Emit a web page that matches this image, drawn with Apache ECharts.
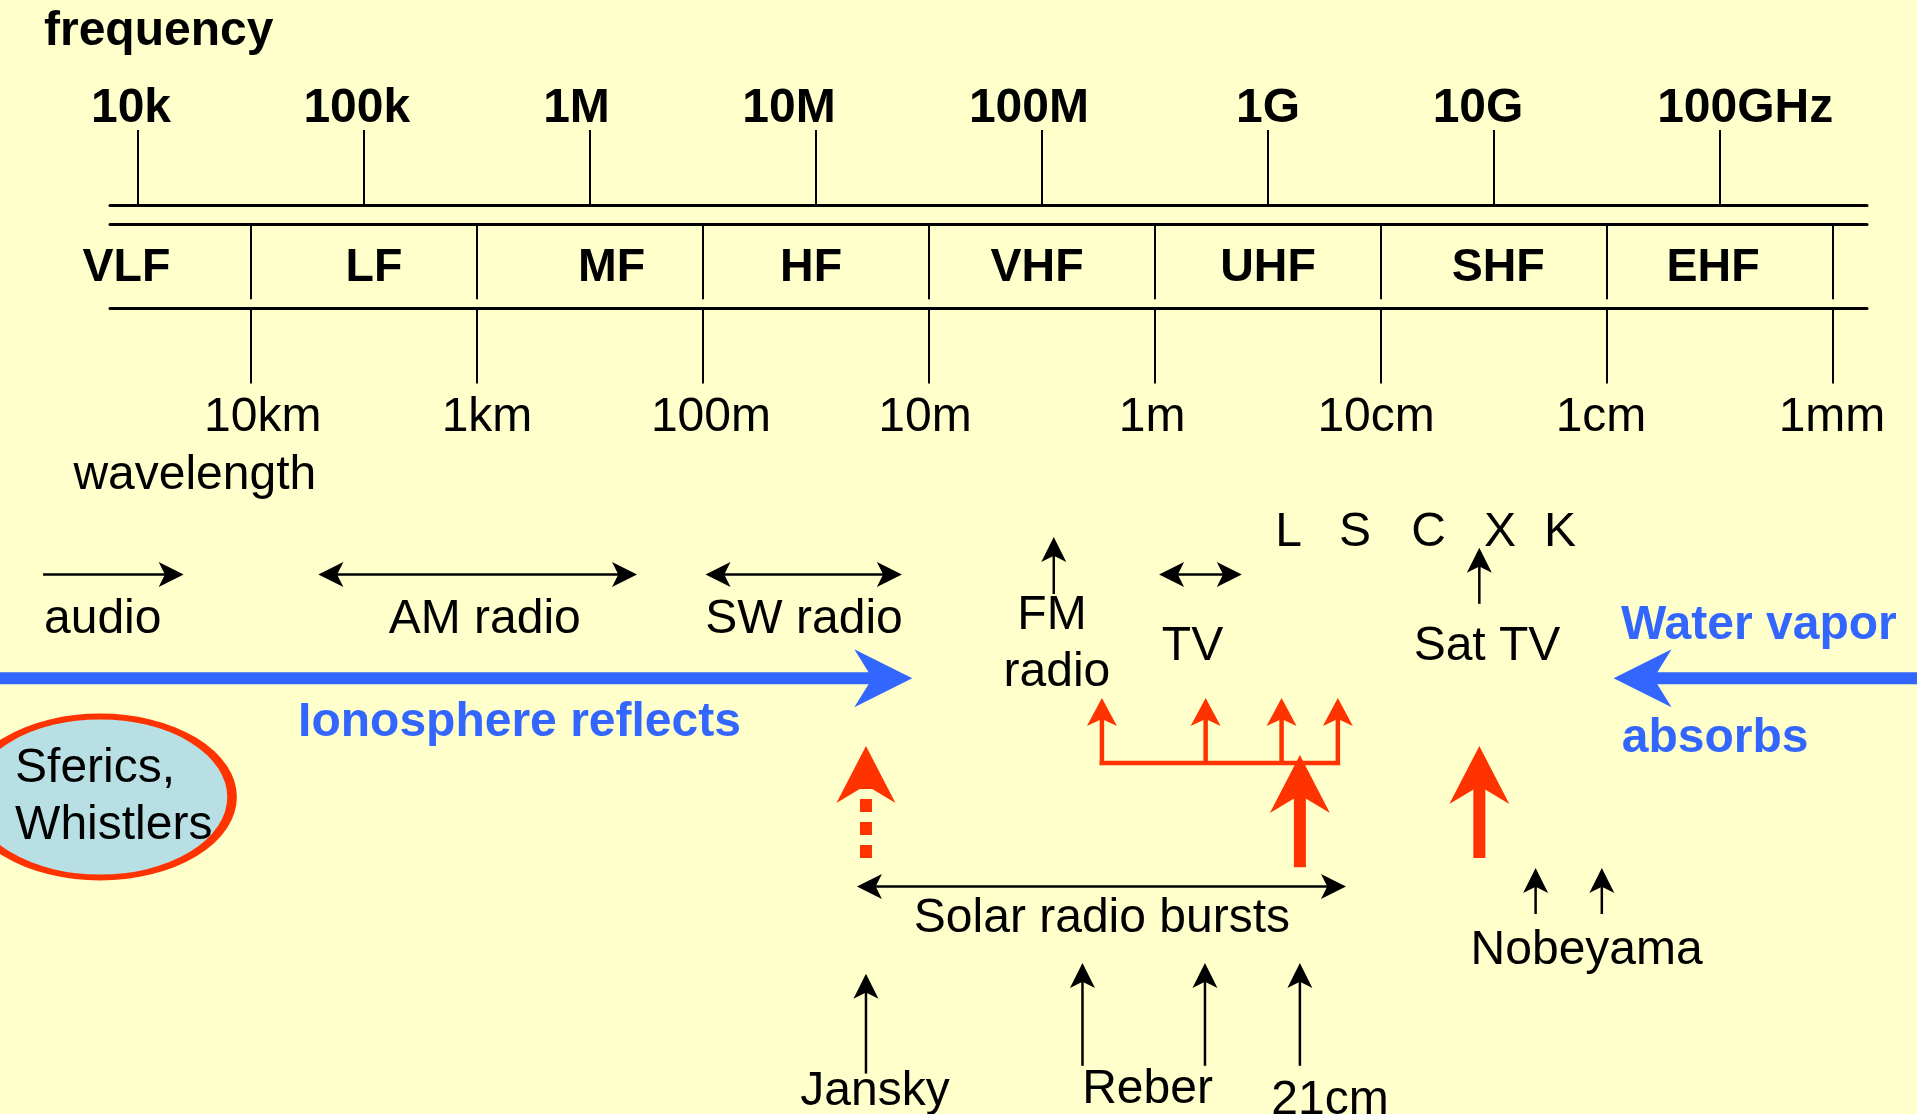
<!DOCTYPE html>
<html>
<head>
<meta charset="utf-8">
<script src="https://cdn.jsdelivr.net/npm/echarts@6/dist/echarts.min.js"></script>
<style>
  html, body { margin: 0; padding: 0; background: #ffffcc; }
  #chart { width: 1917px; height: 1114px; }
</style>
</head>
<body>
<div id="chart"></div>
<script>
// ================= DATA =================
// horizontal positions are log10(frequency / Hz)
const freqTicks  = [4, 5, 6, 7, 8, 9, 10, 11];
const freqLabels = ['10k', '100k', '1M', '10M', '100M', '1G', '10G', '100GHz'];
const bandEdges  = [4.5, 5.5, 6.5, 7.5, 8.5, 9.5, 10.5, 11.5];
const bandNames  = ['VLF', 'LF', 'MF', 'HF', 'VHF', 'UHF', 'SHF', 'EHF'];
const waveTicks  = [4.5, 5.5, 6.5, 7.5, 8.5, 9.5, 10.5, 11.5];
const waveLabels = ['10km', '1km', '100m', '10m', '1m', '10cm', '1cm', '1mm'];

const audioSpan          = [3.581, 4.203];
const amRadioSpan        = [4.799, 6.209];
const swRadioSpan        = [6.512, 7.381];
const tvSpan             = [8.519, 8.885];
const solarBurstSpan     = [7.182, 9.346];
const ionosphereReflects = [3.38, 7.427];
const waterVaporAbsorbs  = [11.88, 10.530];
const fmRadio            = [8.053];
const satTV              = [9.936];
const radarBands         = ['L', 'S', 'C', 'X', 'K'];
const radarBandAt        = [9.092, 9.386, 9.711, 10.027, 10.293];
const jansky             = [7.222];
const reber              = [8.180, 8.722];
const hydrogen21cm       = [9.142];
const nobeyama           = [10.185, 10.478];
const solarForkTo        = [8.266, 8.725, 9.061, 9.310];
const solarStrong        = [9.142, 9.936];
const solarWeak          = [7.222];
const sfericsAt          = [3.833];

// ================= LAYOUT / STYLE =================
const FONT = '"Liberation Sans", Arial, Helvetica, sans-serif';
const BLUE = '#3366ff', RED = '#ff3300', BLACK = '#000000';
const FS = 48;                       // main text size
const X_RULE = [3.877, 11.651];      // extent of the ruled scale
const X_FULL = [3.3903, 11.8726];    // extent of the full picture
const freqLabelAt = [3.970, 4.969, 5.941, 6.881, 7.943, 9.001, 9.930, 11.112];
const bandLabelAt = [3.950, 5.045, 6.096, 6.979, 7.979, 9.001, 10.019, 10.970];
const waveLabelAt = [4.553, 5.545, 6.536, 7.483, 8.488, 9.479, 10.474, 11.496];

// vertical layout rows (layout units, top = 0)
const TY = 5; // text baseline correction
const ROW = {
  letters: 527.4 + TY, shortArrow: 574.4, textA: 614.5 + TY, textB: 642 + TY,
  blueArrow: 678.3, ionoText: 717.5 + TY, fork: 763, forkTip: 698,
  solarLine: 886.5, solarText: 914 + TY
};

const arrowStyles = {
  black:   { color: BLACK, width: 2.5, L: 25, W: 12.5, notch: 0.25 },
  blue:    { color: BLUE,  width: 12,  L: 58, W: 29,   notch: 0.31 },
  red:     { color: RED,   width: 12,  L: 58, W: 30,   notch: 0.31 },
  redThin: { color: RED,   width: 4.5, L: 28, W: 15,   notch: 0.25 },
  redDash: { color: RED,   width: 12,  L: 57, W: 29.5, notch: 0.31, dash: [13, 10] }
};
const styleKeys = Object.keys(arrowStyles);
const S = k => styleKeys.indexOf(k);

// arrows: [x1, y1, x2, y2, style, heads(0 none,1 end,2 both)]
const arrows = [
  [audioSpan[0], ROW.shortArrow, audioSpan[1], ROW.shortArrow, S('black'), 1],
  [amRadioSpan[0], ROW.shortArrow, amRadioSpan[1], ROW.shortArrow, S('black'), 2],
  [swRadioSpan[0], ROW.shortArrow, swRadioSpan[1], ROW.shortArrow, S('black'), 2],
  [tvSpan[0], ROW.shortArrow, tvSpan[1], ROW.shortArrow, S('black'), 2],
  [fmRadio[0], 594, fmRadio[0], 537, S('black'), 1],
  [satTV[0], 603.8, satTV[0], 547.8, S('black'), 1],
  [ionosphereReflects[0], ROW.blueArrow, ionosphereReflects[1], ROW.blueArrow, S('blue'), 1],
  [waterVaporAbsorbs[0], ROW.blueArrow, waterVaporAbsorbs[1], ROW.blueArrow, S('blue'), 1],
  [solarForkTo[0], ROW.fork, solarForkTo[3], ROW.fork, S('redThin'), 0]
];
solarForkTo.forEach(x => arrows.push([x, ROW.fork + 2, x, ROW.forkTip, S('redThin'), 1]));
arrows.push([solarStrong[0], 867.3, solarStrong[0], 755, S('red'), 1]);
arrows.push([solarStrong[1], 858, solarStrong[1], 746, S('red'), 1]);
arrows.push([solarWeak[0], 858, solarWeak[0], 746, S('redDash'), 1]);
arrows.push([solarBurstSpan[0], ROW.solarLine, solarBurstSpan[1], ROW.solarLine, S('black'), 2]);
arrows.push([jansky[0], 1073.6, jansky[0], 973.8, S('black'), 1]);
reber.concat(hydrogen21cm).forEach(x => arrows.push([x, 1065.8, x, 963, S('black'), 1]));
nobeyama.forEach(x => arrows.push([x, 914, x, 868, S('black'), 1]));

// texts
const texts = [
  { x: 3.585, y: 26.5 + TY, t: 'frequency', bold: true, align: 'left' },
  { x: 3.715, y: 470.5 + TY, t: 'wavelength', align: 'left' },
  { x: 3.585, y: ROW.textA, t: 'audio', align: 'left' },
  { x: 5.535, y: ROW.textA, t: 'AM radio' },
  { x: 6.948, y: ROW.textA, t: 'SW radio' },
  { x: 5.689, y: ROW.ionoText, t: 'Ionosphere reflects', bold: true, color: BLUE },
  { x: 3.457, y: 763.5 + TY, t: 'Sferics,', align: 'left' },
  { x: 3.457, y: 820.5 + TY, t: 'Whistlers', align: 'left' },
  { x: 8.045, y: 610.5 + TY, t: 'FM' },
  { x: 8.067, y: 667.5 + TY, t: 'radio' },
  { x: 8.667, y: ROW.textB, t: 'TV' },
  { x: 9.970, y: ROW.textB, t: 'Sat TV' },
  { x: 11.173, y: 621 + TY, t: 'Water vapor', bold: true, color: BLUE },
  { x: 10.979, y: 734 + TY, t: 'absorbs', bold: true, color: BLUE },
  { x: 8.266, y: ROW.solarText, t: 'Solar radio bursts' },
  { x: 10.411, y: 945.5 + TY, t: 'Nobeyama' },
  { x: 7.262, y: 1086.5 + TY, t: 'Jansky' },
  { x: 8.468, y: 1084.5 + TY, t: 'Reber' },
  { x: 9.275, y: 1096 + TY, t: '21cm' }
];
radarBands.forEach((b, i) => texts.push({ x: radarBandAt[i], y: ROW.letters, t: b }));

function renderArrow(params, api) {
  const p1 = api.coord([api.value(0), api.value(1)]);
  const p2 = api.coord([api.value(2), api.value(3)]);
  const st = arrowStyles[styleKeys[api.value(4)]];
  const heads = api.value(5);
  const dx = p2[0] - p1[0], dy = p2[1] - p1[1];
  const len = Math.hypot(dx, dy) || 1;
  const ux = dx / len, uy = dy / len;
  const nx = -uy, ny = ux;
  const inset = st.L * (1 - st.notch) - 2;
  function head(tip, sx, sy) {
    const L = st.L, W = st.W, N = st.notch * L;
    return {
      type: 'polygon',
      shape: { points: [
        [tip[0], tip[1]],
        [tip[0] - sx * L + nx * W, tip[1] - sy * L + ny * W],
        [tip[0] - sx * (L - N), tip[1] - sy * (L - N)],
        [tip[0] - sx * L - nx * W, tip[1] - sy * L - ny * W]
      ] },
      style: { fill: st.color }
    };
  }
  const s = heads === 2 ? [p1[0] + ux * inset, p1[1] + uy * inset] : p1;
  const e = heads >= 1 ? [p2[0] - ux * inset, p2[1] - uy * inset] : p2;
  const children = [{
    type: 'line',
    shape: { x1: s[0], y1: s[1], x2: e[0], y2: e[1] },
    style: { stroke: st.color, lineWidth: st.width, lineDash: st.dash || null,
             lineCap: heads === 0 ? 'square' : 'butt' }
  }];
  if (heads >= 1) children.push(head(p2, ux, uy));
  if (heads === 2) children.push(head(p1, -ux, -uy));
  return { type: 'group', children };
}

function renderText(params, api) {
  const it = texts[params.dataIndex];
  const p = api.coord([api.value(0), api.value(1)]);
  return {
    type: 'text', x: p[0], y: p[1],
    style: {
      text: it.t, fill: it.color || BLACK,
      font: (it.bold ? 'bold ' : '') + FS + 'px ' + FONT,
      align: it.align || 'center', verticalAlign: 'middle'
    }
  };
}

const axisText = (bold, size) => ({ fontSize: size, fontWeight: bold ? 'bold' : 'normal', color: BLACK, fontFamily: FONT, verticalAlign: 'middle' });

const chart = echarts.init(document.getElementById('chart'), null, { renderer: 'canvas' });
chart.setOption({
  animation: false,
  backgroundColor: '#ffffcc',
  textStyle: { fontFamily: FONT },
  grid: [
    { left: 110, top: 205, width: 1757, height: 19.2, outerBoundsMode: 'none', containLabel: false },
    { left: 110, top: 300, width: 1757, height: 8.5, outerBoundsMode: 'none', containLabel: false },
    { left: 0, top: 0, width: 1917, height: 1114, outerBoundsMode: 'none', containLabel: false }
  ],
  xAxis: [
    { gridIndex: 0, type: 'value', position: 'top', min: X_RULE[0], max: X_RULE[1],
      axisLine: { show: true, onZero: false, lineStyle: { color: BLACK, width: 3 } },
      axisTick: { show: true, customValues: freqTicks, length: 75, lineStyle: { color: BLACK, width: 2 } },
      axisLabel: Object.assign({ show: true, customValues: freqLabelAt, margin: 101.5 - TY,
        formatter: v => freqLabels[Math.round(v) - 4] }, axisText(true, 48)),
      splitLine: { show: false } },
    { gridIndex: 0, type: 'value', position: 'bottom', min: X_RULE[0], max: X_RULE[1],
      axisLine: { show: true, onZero: false, lineStyle: { color: BLACK, width: 3 } },
      axisTick: { show: true, customValues: bandEdges, length: 75, lineStyle: { color: BLACK, width: 2 } },
      axisLabel: Object.assign({ show: true, customValues: bandLabelAt, margin: 39.3 + TY,
        formatter: v => bandNames[Math.round(v) - 4] }, axisText(true, 46.5)),
      splitLine: { show: false } },
    { gridIndex: 1, type: 'value', position: 'bottom', min: X_RULE[0], max: X_RULE[1],
      axisLine: { show: true, onZero: false, lineStyle: { color: BLACK, width: 3 } },
      axisTick: { show: true, customValues: waveTicks, length: 75, lineStyle: { color: BLACK, width: 2 } },
      axisLabel: Object.assign({ show: true, customValues: waveLabelAt, margin: 104.5 + TY,
        formatter: v => waveLabels[Math.round(v - 0.5) - 4] }, axisText(false, 48)),
      splitLine: { show: false } },
    { gridIndex: 2, type: 'value', min: X_FULL[0], max: X_FULL[1], show: false }
  ],
  yAxis: [
    { gridIndex: 0, type: 'value', min: 0, max: 1, show: false },
    { gridIndex: 1, type: 'value', min: 0, max: 1, show: false },
    { gridIndex: 2, type: 'value', min: 0, max: 1114, inverse: true, show: false }
  ],
  series: [
    { type: 'scatter', xAxisIndex: 3, yAxisIndex: 2, silent: true, clip: false,
      symbol: 'circle', symbolSize: [264, 161],
      itemStyle: { color: '#b8e0e4', borderColor: RED, borderWidth: 7.5, opacity: 1 },
      data: [[sfericsAt[0], 797]], z: 1 },
    { type: 'custom', xAxisIndex: 3, yAxisIndex: 2, silent: true, clip: false,
      renderItem: renderArrow, data: arrows, z: 2,
      encode: { x: [0, 2], y: [1, 3] } },
    { type: 'custom', xAxisIndex: 3, yAxisIndex: 2, silent: true, clip: false,
      renderItem: renderText, data: texts.map(t => [t.x, t.y]), z: 3,
      encode: { x: 0, y: 1 } }
  ]
});
</script>
</body>
</html>
